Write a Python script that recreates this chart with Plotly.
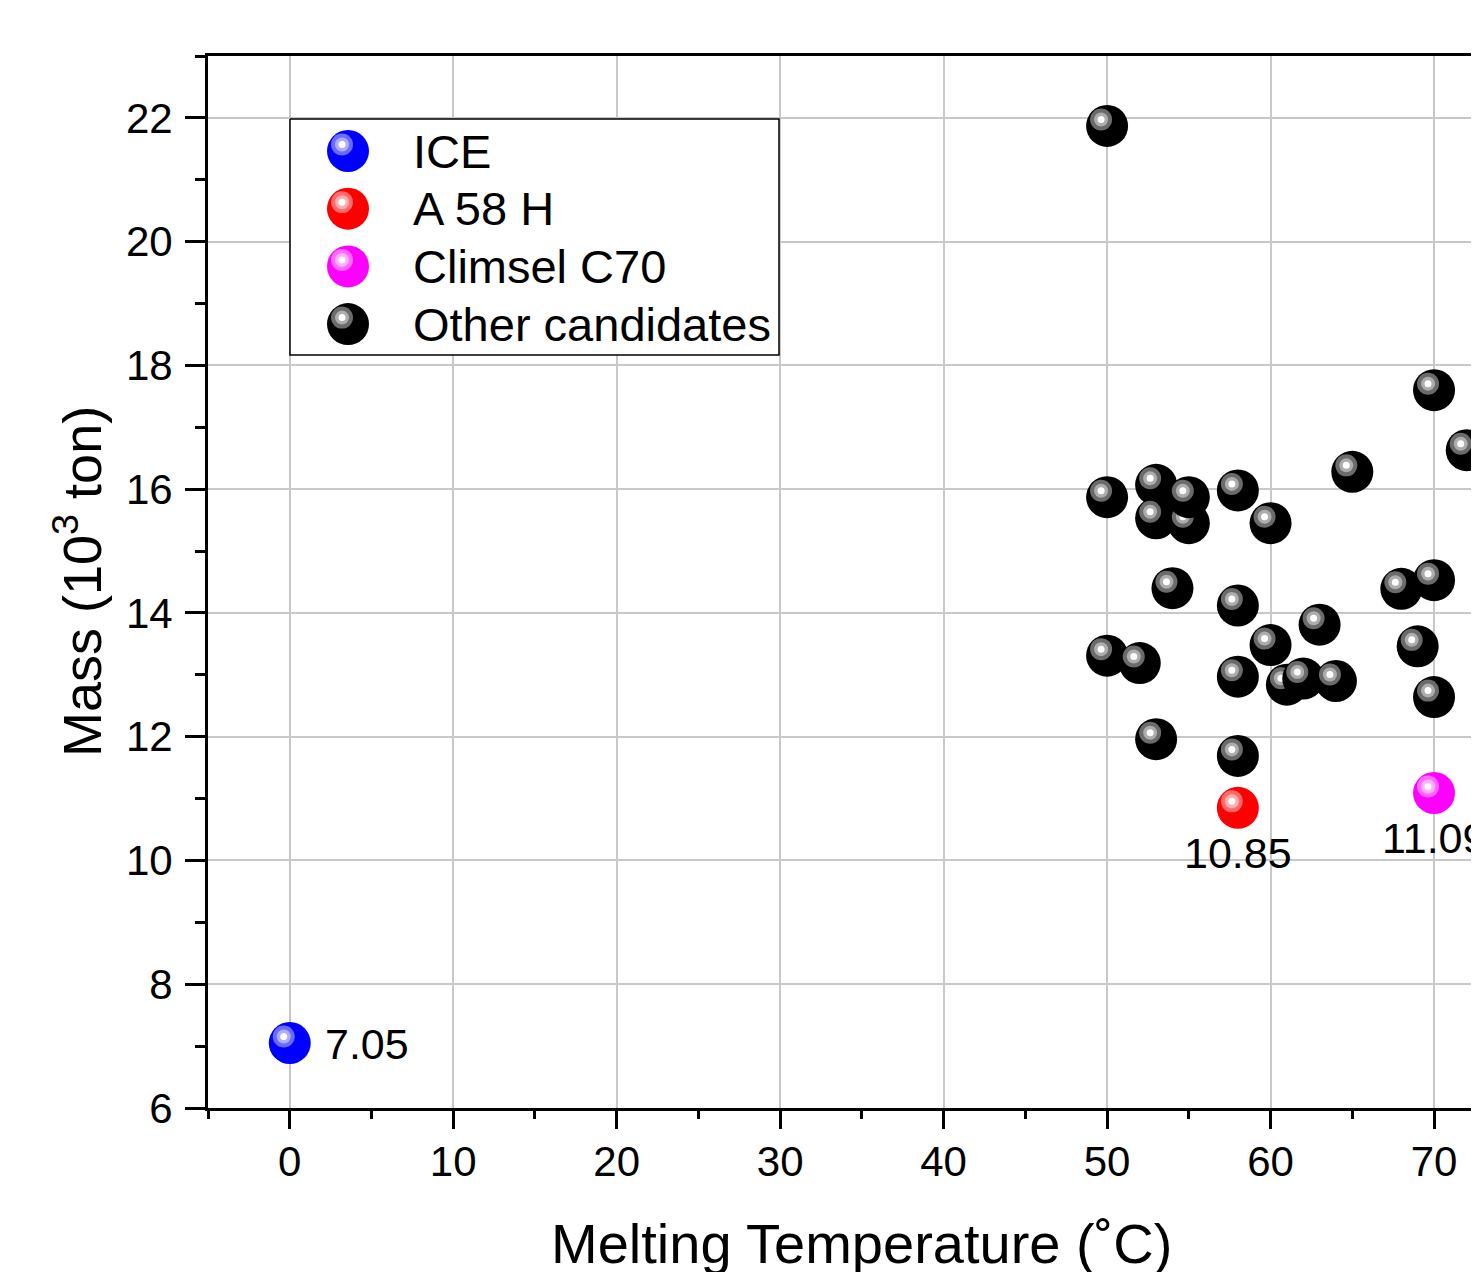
import plotly.graph_objects as go

# ---------------- data ----------------
ice_x = [0]
ice_y = [7.05]
a58h_x = [58]
a58h_y = [10.85]
c70_x = [70]
c70_y = [11.09]
other_x = [50, 70, 72, 65, 50, 53, 53, 55, 55, 58, 60, 54, 58, 68, 70,
           50, 52, 60, 63, 58, 61, 62, 64, 69, 70, 53, 58]
other_y = [21.87, 17.60, 16.63, 16.28, 15.87, 16.07, 15.53, 15.45, 15.87, 15.98, 15.45,
           14.40, 14.12, 14.39, 14.53, 13.31, 13.19, 13.48, 13.81, 12.97, 12.84,
           12.94, 12.90, 13.46, 12.64, 11.96, 11.69]
series_names = ["ICE", "A 58 H", "Climsel C70", "Other candidates"]
x_ticks = [0, 10, 20, 30, 40, 50, 60, 70]
y_ticks = [6, 8, 10, 12, 14, 16, 18, 20, 22]
x_title = "Melting Temperature (˚C)"
y_title = "Mass (10<sup>3</sup> ton)"
X_FULL = [-5, 75]            # full axis extent of the original (cropped on the right)

# ---------------- layout constants ----------------
OFF = 8                      # page offset of the figure in the browser
W, H = 1479, 1272 - OFF
ML, MR, MT, MB = 208 - OFF, 0, 56 - OFF, 164
YR = [6, 23]
PX_X = 16.347                # px per degree, as in the original
PW, PH = W - ML - MR, H - MT - MB
XR = [-5, -5 + PW / PX_X]
PX_Y = PH / (YR[1] - YR[0])
FONT = "Liberation Sans, Arial, sans-serif"

BALL = 42
HL = [(22, 0.42), (14, 0.68), (7, 1.0)]   # (size, white blend)
HL_DX, HL_DY = -6.0, -6.5                 # highlight offset in px (y down)

def blend(hexc, t):
    hexc = hexc.lstrip('#')
    r, g, b = int(hexc[0:2], 16), int(hexc[2:4], 16), int(hexc[4:6], 16)
    r = round(r + (255 - r) * t); g = round(g + (255 - g) * t); b = round(b + (255 - b) * t)
    return f"rgb({r},{g},{b})"

def sphere_arrays(xs, ys, color, dxu, dyu):
    X, Y, S, C = [], [], [], []
    for x, y in zip(xs, ys):
        X.append(x); Y.append(y); S.append(BALL); C.append(color)
        for s, t in HL:
            X.append(x + dxu); Y.append(y + dyu); S.append(s); C.append(blend(color, t))
    return X, Y, S, C

fig = go.Figure()

def add_spheres(xs, ys, color, name, xaxis='x', yaxis='y', dxu=None, dyu=None):
    X, Y, S, C = sphere_arrays(xs, ys, color, dxu, dyu)
    fig.add_trace(go.Scatter(
        x=X, y=Y, mode='markers', name=name, showlegend=False,
        xaxis=xaxis, yaxis=yaxis, hoverinfo='skip',
        marker=dict(size=S, color=C, opacity=1, line=dict(width=0)),
        cliponaxis=True))

dxu = HL_DX / PX_X
dyu = -HL_DY / PX_Y
add_spheres(other_x, other_y, "#000000", series_names[3], dxu=dxu, dyu=dyu)
add_spheres(ice_x, ice_y, "#0000ff", series_names[0], dxu=dxu, dyu=dyu)
add_spheres(a58h_x, a58h_y, "#ff0000", series_names[1], dxu=dxu, dyu=dyu)
add_spheres(c70_x, c70_y, "#ff00ff", series_names[2], dxu=dxu, dyu=dyu)

# ---------------- manual legend (pixel-coordinate overlay axes) ----------------
LEG_BOX = (290, 119, 779, 355)
LEG_MX, LEG_TX = 348, 411
LEG_Y0, LEG_DY = 151, 57.7
leg_colors = ["#0000ff", "#ff0000", "#ff00ff", "#000000"]
x0, y0, x1, y1 = LEG_BOX
fig.add_trace(go.Scatter(x=[x0, x1, x1, x0, x0], y=[y0, y0, y1, y1, y0],
                         mode='lines', fill='toself', fillcolor='white',
                         line=dict(color='black', width=1.5),
                         xaxis='x2', yaxis='y2', showlegend=False, hoverinfo='skip'))
for i, (nm, col) in enumerate(zip(series_names, leg_colors)):
    ly = LEG_Y0 + i * LEG_DY
    add_spheres([LEG_MX], [ly], col, nm, xaxis='x2', yaxis='y2', dxu=HL_DX, dyu=HL_DY)
    fig.add_annotation(x=LEG_TX, y=ly, xref='x2', yref='y2', text=nm, showarrow=False,
                       xanchor='left', yanchor='middle',
                       font=dict(family=FONT, size=47, color='black'))

# ---------------- value labels ----------------
fig.add_annotation(x=ice_x[0], y=ice_y[0], text=f"{ice_y[0]:.2f}", showarrow=False,
                   xanchor='left', yanchor='middle', xshift=33, yshift=-1,
                   font=dict(family=FONT, size=43, color='black'))
for xs, ys in [(a58h_x, a58h_y), (c70_x, c70_y)]:
    fig.add_annotation(x=xs[0], y=ys[0], text=f"{ys[0]:.2f}", showarrow=False,
                       xanchor='center', yanchor='middle', yshift=-45,
                       font=dict(family=FONT, size=43, color='black'))

# ---------------- axis titles (centered on the original, wider axis) ----------------
fig.add_annotation(x=sum(X_FULL) / 2, y=0, xref='x', yref='paper', text=x_title,
                   showarrow=False, xanchor='center', yanchor='middle', yshift=-135,
                   font=dict(family=FONT, size=56, color='black'))
fig.add_annotation(x=0, y=0.5, xref='paper', yref='paper', text=y_title,
                   showarrow=False, xanchor='center', yanchor='middle', xshift=-130,
                   textangle=-90, font=dict(family=FONT, size=54, color='black'))

axis_common = dict(showline=True, linewidth=3, linecolor='black',
                   showgrid=True, gridcolor='#c8c8c8', gridwidth=1.5,
                   zeroline=False, ticks='outside', tickwidth=3, tickcolor='black',
                   tickfont=dict(family=FONT, size=42, color='black'))

fig.update_layout(
    width=W, height=H,
    margin=dict(l=ML, r=MR, t=MT, b=MB),
    paper_bgcolor='white', plot_bgcolor='white',
    showlegend=False,
    xaxis=dict(range=XR, tickvals=x_ticks, ticklen=18, mirror=True,
               minor=dict(dtick=5, tick0=0, ticklen=8, tickwidth=3, tickcolor='black', showgrid=False),
               ticklabelstandoff=-3,
               **axis_common),
    yaxis=dict(range=YR, tickvals=y_ticks, ticklen=20, mirror=False,
               minor=dict(dtick=1, tick0=0, ticklen=10, tickwidth=3, tickcolor='black', showgrid=False),
               ticklabelstandoff=4,
               **axis_common),
    xaxis2=dict(overlaying='x', range=[ML + OFF, ML + OFF + PW], visible=False, fixedrange=True),
    yaxis2=dict(overlaying='y', range=[1108, 56], visible=False, fixedrange=True),
)
fig.update_xaxes(automargin=False)
fig.update_yaxes(automargin=False)

fig.write_html("out.html")
